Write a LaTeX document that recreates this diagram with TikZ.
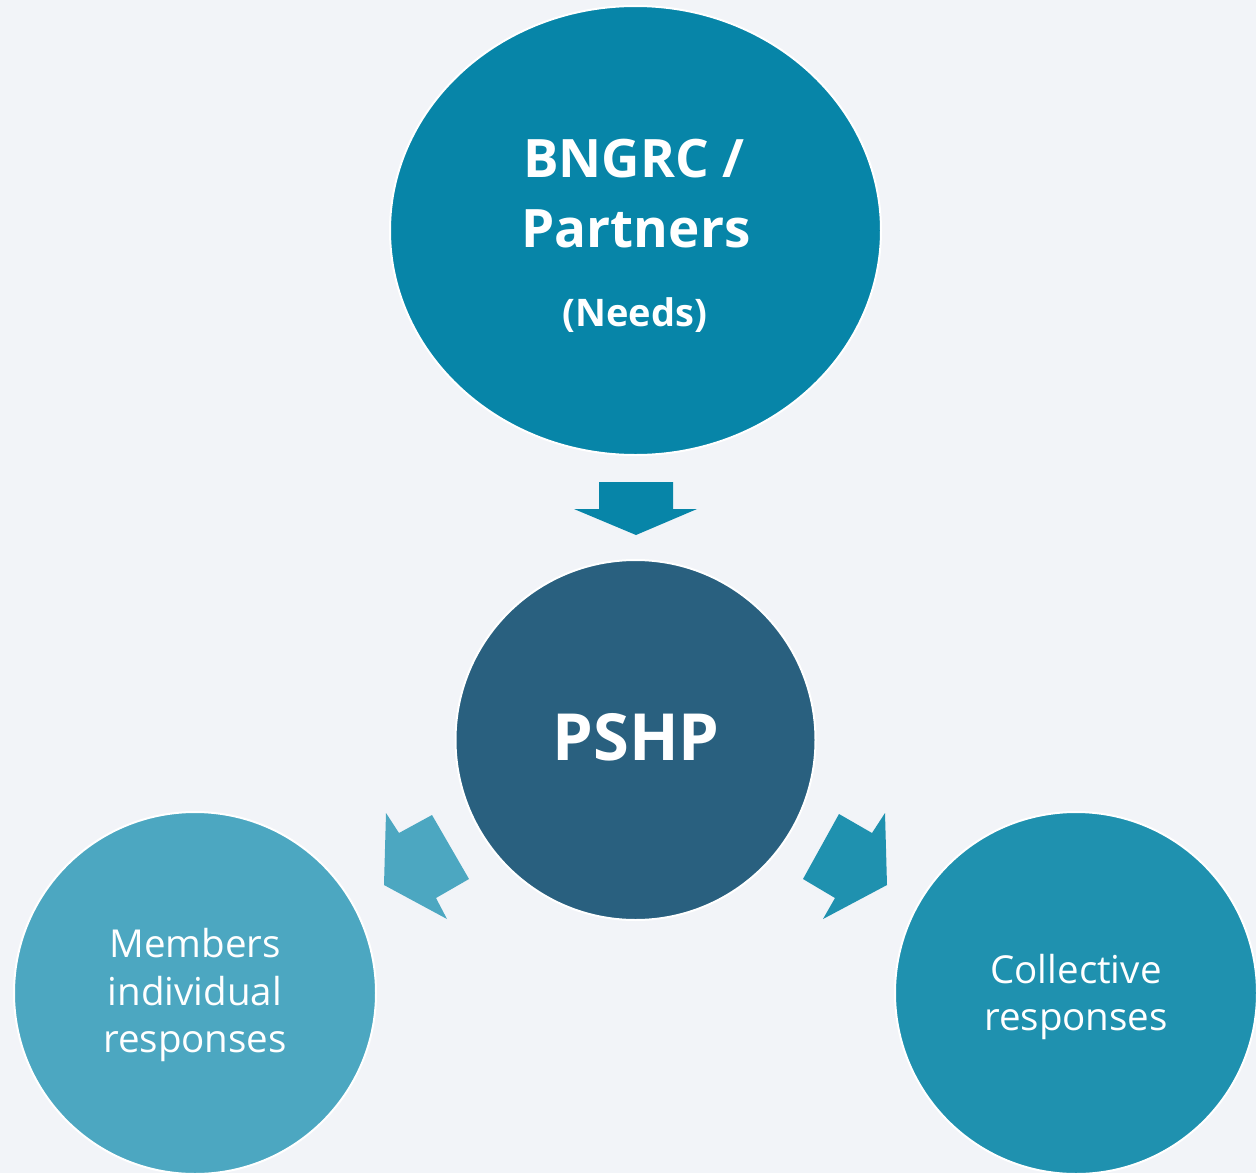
\documentclass[tikz,border=0pt]{standalone}
\usepackage{fontspec}
\setmainfont{Open Sans}
\usetikzlibrary{shapes.geometric}
\definecolor{pagebg}{HTML}{F2F4F8}
\definecolor{topblue}{HTML}{0785A8}
\definecolor{navyblue}{HTML}{29607F}
\definecolor{lightblue}{HTML}{4CA7C1}
\definecolor{midblue}{HTML}{1F91AF}
\begin{document}
\begin{tikzpicture}[x=1pt,y=-1pt,
  bubble/.style={draw=white, line width=2pt, inner sep=0pt, outer sep=0pt},
  caption/.style={text=white, anchor=base, inner sep=0pt},
  bigbold/.style={font=\bfseries\fontsize{53}{53}\selectfont},
  smalltext/.style={font=\fontsize{38.5}{38.5}\selectfont}]
\fill[pagebg] (0,0) rectangle (1256,1173);
\useasboundingbox (0,0) rectangle (1256,1173);

% circles
\node[bubble, ellipse, fill=topblue, minimum width=491pt, minimum height=449pt] (partners) at (635.5,230.5) {};
\node[bubble, circle, fill=navyblue, minimum size=360pt] (pshp) at (635.5,740) {};
\node[bubble, circle, fill=lightblue, minimum size=362pt] (members) at (195,993) {};
\node[bubble, circle, fill=midblue, minimum size=362pt] (collective) at (1076,993) {};

% labels
\node[caption, bigbold] (bngrc) at (634,177) {BNGRC /};
\node[caption, bigbold] (partnerstext) at (636,247) {Partners};
\node[caption, font=\bfseries\fontsize{38}{38}\selectfont] (needs) at (635,326) {(Needs)};
\node[caption, font=\bfseries\fontsize{65}{65}\selectfont] (pshptext) at (636,760) {PSHP};
\node[caption, smalltext] (m1) at (195,957) {Members};
\node[caption, smalltext] (m2) at (195,1005) {individual};
\node[caption, smalltext] (m3) at (195,1052) {responses};
\node[caption, smalltext] (c1) at (1076,983) {Collective};
\node[caption, smalltext] (c2) at (1076,1030) {responses};

% block arrows
\fill[topblue] (599,482) -- (673,482) -- (673,509) -- (697,509) -- (636,535)
  -- (574,509) -- (599,509) -- cycle;
\fill[lightblue] (384,885) -- (386,813) -- (399,833) -- (432,815) -- (469,879)
  -- (436,898) -- (447,919) -- cycle;
\fill[midblue] (887,885) -- (885,813) -- (872,833) -- (839,814) -- (803,879)
  -- (835,898) -- (823,919) -- cycle;
\end{tikzpicture}
\end{document}
